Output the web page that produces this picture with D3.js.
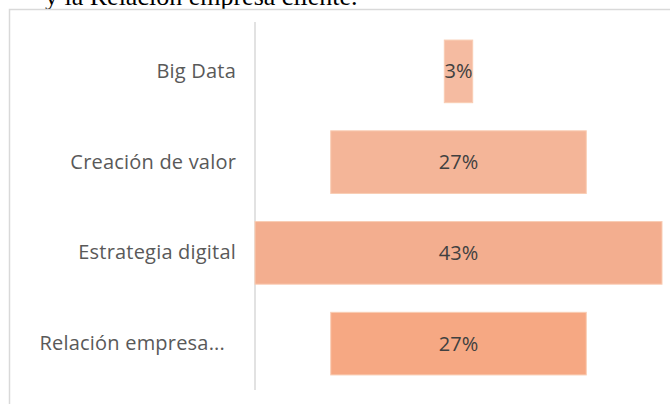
<!DOCTYPE html>
<html>
<head>
<meta charset="utf-8">
<script src="https://cdn.jsdelivr.net/npm/d3@7"></script>
<style>
  body { margin: 0; background: #fff; }
  svg { display: block; }
</style>
</head>
<body>
<div id="chart"></div>
<script>
const categories = ["Big Data", "Creación de valor", "Estrategia digital", "Relación empresa..."];
const values = [3, 27, 43, 27];
const barColors = ["#F5BBA1", "#F4B598", "#F3AE8F", "#F6A883"];

const outerWidth = 670, outerHeight = 404;

const svg = d3.select("#chart").append("svg")
    .attr("width", outerWidth)
    .attr("height", outerHeight);

// text of the page above the chart, cut off
svg.append("text")
    .attr("x", 45)
    .attr("y", 5)
    .attr("font-family", "Liberation Serif, serif")
    .attr("font-size", 26)
    .attr("fill", "#000")
    .text("y la Relación empresa cliente.");

// chart frame
svg.append("path")
    .attr("d", "M9.5,404 V9.5 H670")
    .attr("fill", "none")
    .attr("stroke", "#d9d9d9")
    .attr("stroke-width", 1.5);

// scales
const axisX = 255;
const plotRight = 662;
const center = (axisX + plotRight) / 2;

const wScale = d3.scaleLinear()
    .domain([0, d3.max(values)])
    .range([0, plotRight - axisX]);

const yScale = d3.scaleBand()
    .domain(categories)
    .range([26, 389])
    .paddingInner(0.31)
    .paddingOuter(0.155);

// category axis
const yAxis = svg.append("g")
    .attr("transform", "translate(" + axisX + ",0)")
    .call(d3.axisLeft(yScale).tickSize(0).tickPadding(19));
yAxis.select(".domain")
    .attr("d", "M0,22 V390")
    .attr("stroke", "#d9d9d9")
    .attr("stroke-width", 1.5);
yAxis.selectAll("text")
    .attr("font-family", "Open Sans, sans-serif")
    .attr("font-size", 20)
    .attr("letter-spacing", 0.2)
    .attr("fill", "#595959")
    .attr("dx", (d) => d.endsWith("...") ? -11 : 0);

// bars
const bars = svg.append("g").selectAll("g")
    .data(values)
    .join("g");

bars.append("rect")
    .attr("x", (d) => center - wScale(d) / 2)
    .attr("y", (d, i) => yScale(categories[i]))
    .attr("width", (d) => wScale(d))
    .attr("height", yScale.bandwidth())
    .attr("fill", (d, i) => barColors[i])
    .attr("stroke", "#F9CDB4")
    .attr("stroke-width", 1);

bars.append("text")
    .attr("x", center)
    .attr("y", (d, i) => yScale(categories[i]) + yScale.bandwidth() / 2)
    .attr("dy", "0.35em")
    .attr("text-anchor", "middle")
    .attr("font-family", "Open Sans, sans-serif")
    .attr("font-size", 20)
    .attr("fill", "#404040")
    .text((d) => d + "%");
</script>
</body>
</html>
